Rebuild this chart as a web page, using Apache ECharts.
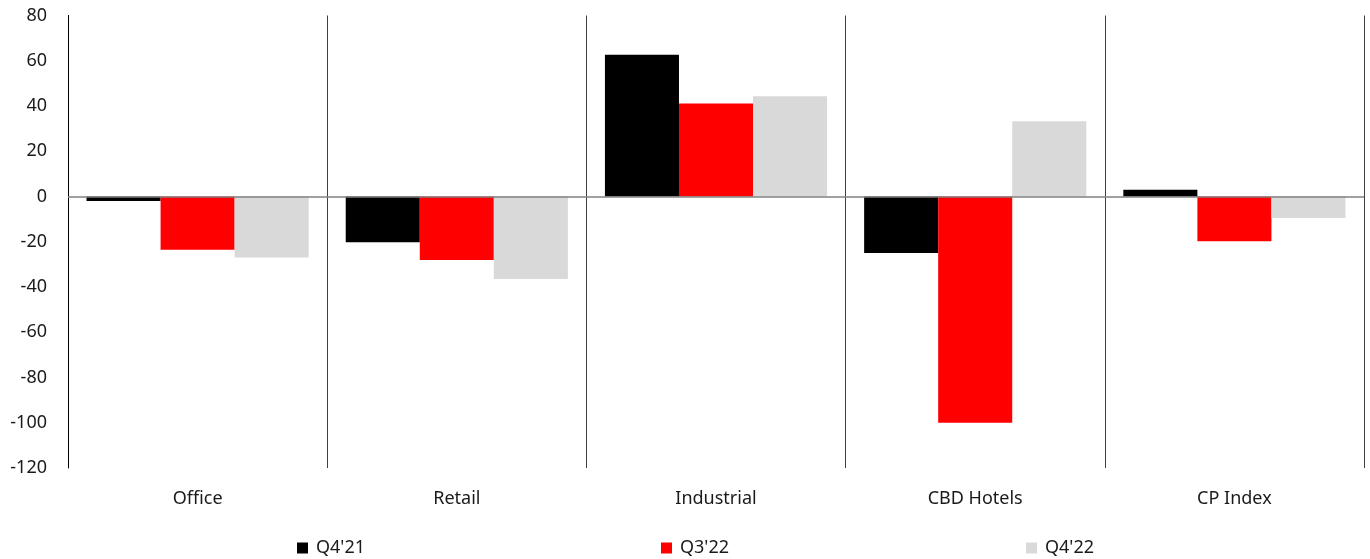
<!DOCTYPE html>
<html>
<head>
<meta charset="utf-8">
<script src="https://cdn.jsdelivr.net/npm/echarts@6/dist/echarts.min.js"></script>
<style>
  html, body { margin: 0; padding: 0; background: #fff; }
  #chart { width: 1370px; height: 559px; }
</style>
</head>
<body>
<div id="chart"></div>
<script>
// Sector categories and the three quarterly series (% change)
const categories = ['Office', 'Retail', 'Industrial', 'CBD Hotels', 'CP Index'];
const seriesNames = ["Q4'21", "Q3'22", "Q4'22"];
const q4_21 = [-2, -20.2, 62.6, -25, 3];
const q3_22 = [-23.5, -28.1, 41.1, -100, -19.8];
const q4_22 = [-27, -36.5, 44.3, 33.3, -9.5];
const yTicks = { min: -120, max: 80, interval: 20 };

const colors = ['#000000', '#ff0000', '#d9d9d9'];
const values = [q4_21, q3_22, q4_22];
const FONT = 'Noto Sans';
const legendLefts = [297, 661, 1026];

const chart = echarts.init(document.getElementById('chart'), null, { renderer: 'canvas' });

const series = seriesNames.map((name, i) => {
  const s = {
    name: name,
    type: 'bar',
    data: values[i],
    barGap: '0%',
    barCategoryGap: '14.3%',
    itemStyle: { color: colors[i] },
    emphasis: { disabled: true },
    silent: true
  };
  if (i === 0) {
    // horizontal zero line across the plot
    s.markLine = {
      silent: true,
      symbol: ['none', 'none'],
      label: { show: false },
      lineStyle: { color: '#808080', width: 1.5, type: 'solid' },
      data: [{ yAxis: 0 }],
      animation: false
    };
  }
  return s;
});

const option = {
  animation: false,
  backgroundColor: '#ffffff',
  textStyle: { fontFamily: FONT },
  grid: { left: 68, right: 6, top: 15.5, bottom: 91, containLabel: false },
  legend: seriesNames.map((name, i) => ({
    data: [name],
    left: legendLefts[i],
    top: 539,
    padding: 0,
    itemWidth: 11,
    itemHeight: 11,
    itemGap: 0,
    icon: 'rect',
    selectedMode: false,
    textStyle: { fontFamily: FONT, fontSize: 18, color: '#1a1a1a', padding: [0, 0, 0, 3] }
  })),
  xAxis: {
    type: 'category',
    data: categories,
    position: 'bottom',
    axisLine: { show: false, onZero: false },
    axisTick: { show: false },
    splitLine: { show: true, lineStyle: { color: '#404040', width: 1 } },
    axisLabel: { fontFamily: FONT, fontSize: 18, color: '#1a1a1a', margin: 22 }
  },
  yAxis: {
    type: 'value',
    min: yTicks.min,
    max: yTicks.max,
    interval: yTicks.interval,
    axisLine: { show: true, lineStyle: { color: '#000000', width: 1 } },
    axisTick: { show: false },
    splitLine: { show: false },
    axisLabel: { fontFamily: FONT, fontSize: 18, color: '#1a1a1a', margin: 21 }
  },
  series: series
};

chart.setOption(option);
</script>
</body>
</html>
